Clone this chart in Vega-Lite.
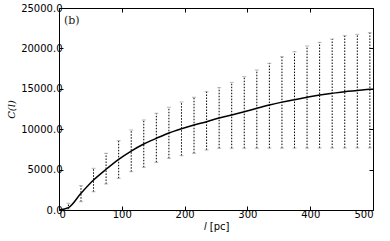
{
  "$schema": "https://vega.github.io/schema/vega-lite/v6.json",
  "width": 314,
  "height": 202,
  "autosize": "none",
  "padding": {"left": 59, "top": 8, "right": 17, "bottom": 31},
  "background": "white",
  "config": {
    "view": {"stroke": "black", "strokeWidth": 1},
    "axis": {
      "grid": false,
      "domain": false,
      "tickColor": "black",
      "tickSize": -4,
      "labelFont": "DejaVu Sans",
      "labelFontSize": 10,
      "labelColor": "black",
      "titleFont": "DejaVu Sans",
      "titleFontSize": 10,
      "titleColor": "black",
      "titleFontWeight": "normal"
    }
  },
  "datasets": {
    "line": [
      {"l": 0, "C": 0}, {"l": 15, "C": 290}, {"l": 35, "C": 2070}, {"l": 55, "C": 3710},
      {"l": 75, "C": 5040}, {"l": 95, "C": 6270}, {"l": 115, "C": 7300}, {"l": 135, "C": 8170},
      {"l": 155, "C": 8870}, {"l": 175, "C": 9530}, {"l": 195, "C": 10060}, {"l": 215, "C": 10520},
      {"l": 235, "C": 10930}, {"l": 255, "C": 11380}, {"l": 275, "C": 11750}, {"l": 295, "C": 12150},
      {"l": 315, "C": 12590}, {"l": 335, "C": 13000}, {"l": 355, "C": 13350}, {"l": 375, "C": 13650},
      {"l": 395, "C": 13950}, {"l": 415, "C": 14230}, {"l": 435, "C": 14440}, {"l": 455, "C": 14640},
      {"l": 475, "C": 14780}, {"l": 495, "C": 14940}, {"l": 500, "C": 14960}
    ],
    "err": [
      {"l": 15, "lo": 120, "hi": 830}, {"l": 35, "lo": 1030, "hi": 3010}, {"l": 55, "lo": 2260, "hi": 5160},
      {"l": 75, "lo": 3220, "hi": 7020}, {"l": 95, "lo": 3920, "hi": 8580}, {"l": 115, "lo": 4740, "hi": 9900},
      {"l": 135, "lo": 5280, "hi": 11140}, {"l": 155, "lo": 5900, "hi": 11970}, {"l": 175, "lo": 6400, "hi": 12710},
      {"l": 195, "lo": 6720, "hi": 13370}, {"l": 215, "lo": 7020, "hi": 13950}, {"l": 235, "lo": 7430, "hi": 14640},
      {"l": 255, "lo": 7640, "hi": 15140}, {"l": 275, "lo": 7650, "hi": 15800}, {"l": 295, "lo": 7650, "hi": 16500},
      {"l": 315, "lo": 7650, "hi": 17330}, {"l": 335, "lo": 7660, "hi": 18160}, {"l": 355, "lo": 7660, "hi": 18970},
      {"l": 375, "lo": 7660, "hi": 19590}, {"l": 395, "lo": 7660, "hi": 20300}, {"l": 415, "lo": 7670, "hi": 20750},
      {"l": 435, "lo": 7670, "hi": 21160}, {"l": 455, "lo": 7670, "hi": 21570}, {"l": 475, "lo": 7680, "hi": 21740},
      {"l": 495, "lo": 7680, "hi": 21940}
    ],
    "note": [{"label": "(b)"}]
  },
  "layer": [
    {
      "data": {"name": "err"},
      "mark": {"type": "rule", "color": "black", "strokeWidth": 1, "strokeDash": [1.5, 1.5]},
      "encoding": {
        "x": {"field": "l", "type": "quantitative", "scale": {"domain": [0, 500], "nice": false, "zero": false},
              "axis": {"orient": "bottom", "values": [0, 100, 200, 300, 400, 500], "format": "d", "title": "𝑙 [pc]", "labelPadding": 3, "titlePadding": 2}},
        "y": {"field": "lo", "type": "quantitative", "scale": {"domain": [0, 25000], "nice": false},
              "axis": {"orient": "left", "values": [0, 5000, 10000, 15000, 20000, 25000], "format": ".1f", "title": "C(l)", "titleFont": "DejaVu Serif", "titleFontStyle": "italic", "labelPadding": 1, "titlePadding": 4}},
        "y2": {"field": "hi"}
      }
    },
    {
      "data": {"name": "err"},
      "mark": {"type": "tick", "orient": "horizontal", "color": "#999999", "size": 4, "thickness": 1},
      "encoding": {
        "x": {"field": "l", "type": "quantitative", "axis": null},
        "y": {"field": "hi", "type": "quantitative", "axis": null}
      }
    },
    {
      "data": {"name": "err"},
      "mark": {"type": "tick", "orient": "horizontal", "color": "#999999", "size": 4, "thickness": 1},
      "encoding": {
        "x": {"field": "l", "type": "quantitative", "axis": null},
        "y": {"field": "lo", "type": "quantitative", "axis": null}
      }
    },
    {
      "data": {"name": "line"},
      "mark": {"type": "line", "color": "black", "strokeWidth": 1.5, "interpolate": "monotone"},
      "encoding": {
        "x": {"field": "l", "type": "quantitative",
              "axis": {"orient": "top", "values": [0, 100, 200, 300, 400, 500], "labels": false, "title": null}},
        "y": {"field": "C", "type": "quantitative",
              "axis": {"orient": "right", "values": [0, 5000, 10000, 15000, 20000, 25000], "labels": false, "title": null}}
      }
    },
    {
      "data": {"name": "note"},
      "mark": {"type": "text", "font": "DejaVu Serif", "fontSize": 11, "fontWeight": "normal", "align": "left", "baseline": "middle", "color": "#222222"},
      "encoding": {
        "x": {"datum": 8, "type": "quantitative", "axis": null},
        "y": {"datum": 23400, "type": "quantitative", "axis": null},
        "text": {"field": "label", "type": "nominal"}
      }
    }
  ],
  "resolve": {"axis": {"x": "independent", "y": "independent"}}
}
